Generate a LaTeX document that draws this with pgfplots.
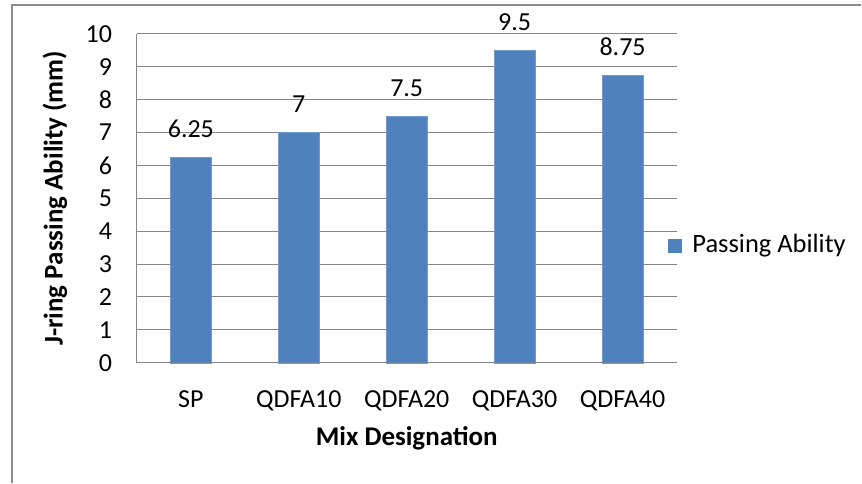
\documentclass[border=0pt]{standalone}
\usepackage{pgfplots}
\pgfplotsset{compat=1.18}
\usepackage{fontspec}
\setmainfont{Carlito}
\definecolor{barblue}{HTML}{4F81BD}
\definecolor{gridgray}{HTML}{868686}
\definecolor{framegray}{HTML}{8C8C8C}
\begin{document}
\fontsize{26bp}{30bp}\selectfont
\begin{tikzpicture}[x=1bp,y=1bp]
  % page extent and chart frame
  \path (0,0) rectangle (862,483);
  \draw[framegray, line width=1.2bp] (12,0) -- (12,478) -- (862,478);
  \begin{axis}[
    at={(137bp,120bp)}, anchor=south west,
    scale only axis, width=540bp, height=329bp,
    xmin=-0.5, xmax=4.5, ymin=0, ymax=10,
    xtick=data,
    xticklabels={SP,QDFA10,QDFA20,QDFA30,QDFA40},
    ytick={0,1,...,10},
    major tick length=0pt,
    axis x line*=bottom, axis y line*=left,
    axis line style={gridgray, line width=1bp},
    ymajorgrids, grid style={gridgray, line width=1bp},
    /pgf/number format/assume math mode=true,
    ticklabel style={font=\fontsize{26bp}{30bp}\selectfont},
    yticklabel style={xshift=-16bp},
    xticklabel style={yshift=-19bp},
    xlabel={\bfseries Mix Designation},
    ylabel={\bfseries J-ring Passing Ability (mm)},
    label style={font=\fontsize{27bp}{31bp}\selectfont},
    xlabel style={at={(axis description cs:0.5,0)}, anchor=center, yshift=-76bp},
    ylabel style={at={(axis description cs:-0.152,0.5)}, anchor=center},
    ybar, bar width=41bp,
    nodes near coords,
    nodes near coords style={font=\fontsize{26bp}{30bp}\selectfont, text=black, anchor=south, yshift=11bp},
    point meta=explicit symbolic,
    legend style={at={(axis description cs:0.985,0.356)}, anchor=west, draw=none, fill=none,
      font=\fontsize{26.5bp}{31bp}\selectfont, inner sep=0pt, outer sep=0pt},
    legend image code/.code={%
      \fill[barblue, draw=none] (0bp,-7bp) rectangle (14bp,7bp);
      \path[draw=none, fill=none] (0bp,0bp) rectangle (22bp,1bp);},
    clip=false,
  ]
    \addplot[fill=barblue, draw=barblue!80!white] table[meta=label] {
      x y label
      0 6.25 6.25
      1 7 7
      2 7.5 7.5
      3 9.5 9.5
      4 8.75 8.75
    };
    \addlegendentry{Passing Ability}
  \end{axis}
\end{tikzpicture}
\end{document}
